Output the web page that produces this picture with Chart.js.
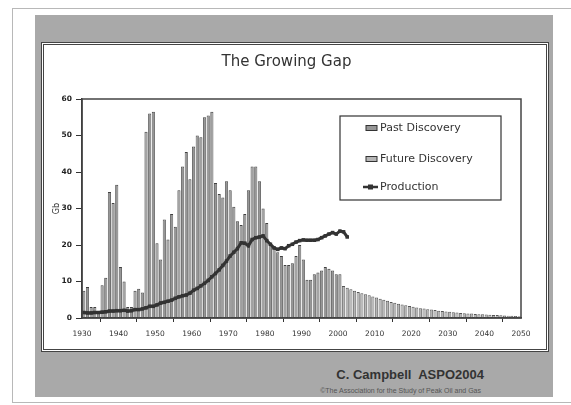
<!DOCTYPE html>
<html>
<head>
<meta charset="utf-8">
<script src="https://cdn.jsdelivr.net/npm/chart.js@4.4.0/dist/chart.umd.min.js"></script>
<style>
  body { margin: 0; width: 571px; height: 405px; background: #fff; position: relative; overflow: hidden; font-family: "Liberation Sans", Arial, sans-serif; }
  #outer { position: absolute; left: 12px; top: 8px; width: 600px; height: 393px; border: 1px solid #b8b8b8; }
  #panel { position: absolute; left: 35px; top: 15px; width: 518px; height: 382px; background: #a9a9a9; }
  #inner { position: absolute; left: 41px; top: 42px; width: 502px; height: 304px; border: 3px double #444; background: #fff; }
  #chartBox { position: absolute; left: 0; top: 0; width: 502px; height: 304px; }
  #credit { position: absolute; right: 87px; top: 367px; font-weight: bold; font-size: 13px; color: #333; }
  #assoc { position: absolute; right: 90px; top: 387px; font-size: 7px; color: #555; }
</style>
</head>
<body>
<div id="outer"></div>
<div id="panel"></div>
<div id="inner"><div id="chartBox"><canvas id="myChart"></canvas></div></div>
<div id="credit">C. Campbell&nbsp; ASPO2004</div>
<div id="assoc">©The Association for the Study of Peak Oil and Gas</div>
<script>
// datos (Gb por año)
const pastStart = 1930
const pastDiscovery = [7.5, 8.5, 3, 3, 1.8, 9, 11, 34.5, 31.5, 36.5,
  14, 10, 3, 3, 7.5, 8, 7, 51, 56, 56.5,
  20.5, 16, 27, 21.5, 28.5, 25, 35, 41.5, 45.5, 38,
  47, 50, 49.5, 55, 55.5, 56.5, 37, 34, 33, 37.5,
  35, 30.5, 26.5, 25.5, 28.5, 35, 41.5, 41.5, 37.5, 30,
  26, 20.5, 19.5, 18, 17, 14.5, 14.5, 15, 17, 20,
  16, 10.5, 10.5, 12, 12.5, 13, 14, 13.5, 13, 12,
  12]

const futureStart = 2001
const futureDiscovery = [8.8, 8.3, 7.9, 7.5, 7.1, 6.8, 6.5, 6.2, 5.9,
  5.6, 5.3, 5.0, 4.7, 4.4, 4.2, 3.9, 3.7, 3.5, 3.3,
  3.1, 2.9, 2.7, 2.6, 2.4, 2.3, 2.2, 2.0, 1.9, 1.8,
  1.7, 1.6, 1.5, 1.4, 1.3, 1.25, 1.2, 1.1, 1.05, 1.0,
  0.95, 0.9, 0.85, 0.8, 0.75, 0.7, 0.65, 0.6, 0.55, 0.5]

const productionStart = 1930
const production = [1.5, 1.4, 1.4, 1.5, 1.5, 1.6, 1.7, 1.9, 1.9, 2.0,
  2.0, 2.1, 1.9, 2.0, 2.3, 2.3, 2.5, 2.8, 3.2, 3.2,
  3.6, 4.1, 4.3, 4.6, 4.9, 5.4, 5.8, 6.1, 6.3, 6.8,
  7.6, 8.1, 8.8, 9.5, 10.3, 11.3, 12.2, 13.2, 14.4, 15.6,
  17.0, 18.0, 19.0, 20.6, 20.5, 19.8, 21.5, 22.0, 22.2, 22.5,
  21.2, 20.2, 19.2, 18.8, 19.2, 19.0, 19.8, 20.2, 20.8, 21.2,
  21.4, 21.3, 21.3, 21.3, 21.5, 22.0, 22.5, 23.0, 23.4, 23.0,
  23.8, 23.6, 22.2]

const xTicks = [1930, 1940, 1950, 1960, 1970, 1980, 1990, 2000, 2010, 2020, 2030, 2040, 2050]
const yTicks = [0, 10, 20, 30, 40, 50, 60]
const seriesNames = ['Past Discovery', 'Future Discovery', 'Production']

// cada barra ocupa su año completo (centro en año + 0.5)
function toPoints(values, start) {
  return values.map((v, i) => ({ x: start + i + 0.5, y: v }))
}

// marco del area y leyenda dentro del grafico
const framePlugin = {
  id: 'frameAndLegend',
  afterDraw(chart) {
    const ctx = chart.ctx
    const a = chart.chartArea
    ctx.save()
    ctx.strokeStyle = '#444'
    ctx.lineWidth = 1.5
    ctx.strokeRect(a.left, a.top, a.right - a.left, a.bottom - a.top)

    const bx = a.right - 181, by = a.top + 17, bw = 161, bh = 84
    ctx.fillStyle = '#fff'
    ctx.fillRect(bx, by, bw, bh)
    ctx.strokeStyle = '#333'
    ctx.lineWidth = 1.2
    ctx.strokeRect(bx, by, bw, bh)

    const rows = [12, 43, 71]
    ctx.font = '11px "DejaVu Sans"'
    ctx.textBaseline = 'middle'
    chart.data.datasets.forEach((ds, i) => {
      const y = by + rows[i]
      if (ds.type === 'line') {
        ctx.strokeStyle = ds.borderColor
        ctx.lineWidth = 2.5
        ctx.beginPath()
        ctx.moveTo(bx + 23, y)
        ctx.lineTo(bx + 38, y)
        ctx.stroke()
        ctx.fillStyle = ds.borderColor
        ctx.fillRect(bx + 28, y - 2.5, 5, 5)
      } else {
        ctx.fillStyle = ds.backgroundColor
        ctx.fillRect(bx + 26, y - 2.5, 11, 5)
        ctx.strokeStyle = '#333'
        ctx.lineWidth = 1
        ctx.strokeRect(bx + 26, y - 2.5, 11, 5)
      }
      ctx.fillStyle = '#333'
      ctx.fillText(ds.label, bx + 40, y)
    })
    ctx.restore()
  }
}

const data = {
  datasets: [
    {
      type: 'line',
      label: seriesNames[2],
      data: toPoints(production, productionStart),
      borderColor: '#333',
      backgroundColor: '#333',
      borderWidth: 3,
      pointStyle: 'rect',
      pointRadius: 2.5,
      pointBorderWidth: 0,
      order: 0
    },
    {
      type: 'bar',
      label: seriesNames[0],
      data: toPoints(pastDiscovery, pastStart),
      backgroundColor: '#979797',
      borderColor: '#404040',
      borderWidth: { left: 0.8, right: 0.8, top: 1 },
      borderSkipped: 'bottom',
      grouped: false,
      categoryPercentage: 1,
      barPercentage: 0.85,
      order: 1
    },
    {
      type: 'bar',
      label: seriesNames[1],
      data: toPoints(futureDiscovery, futureStart),
      backgroundColor: '#b6b6b6',
      borderColor: '#555',
      borderWidth: { left: 0.8, right: 0.8, top: 1 },
      borderSkipped: 'bottom',
      grouped: false,
      categoryPercentage: 1,
      barPercentage: 0.85,
      order: 1
    }
  ]
}
// la leyenda sigue el orden Past, Future, Production
data.datasets.sort((p, q) => seriesNames.indexOf(p.label) - seriesNames.indexOf(q.label))

const config = {
  type: 'bar',
  data: data,
  options: {
    responsive: true,
    maintainAspectRatio: false,
    animation: false,
    layout: { padding: { left: 8, right: 25, top: 0, bottom: 0 } },
    plugins: {
      legend: { display: false },
      tooltip: { enabled: false },
      title: {
        display: true,
        text: 'The Growing Gap',
        color: '#333',
        font: { family: '"DejaVu Sans"', size: 15, weight: 'normal' },
        padding: { top: 8, bottom: 28 }
      }
    },
    scales: {
      x: {
        type: 'linear',
        min: xTicks[0],
        max: xTicks[xTicks.length - 1],
        offset: false,
        afterBuildTicks: s => { s.ticks = xTicks.map(v => ({ value: v })) },
        afterFit: s => { s.height = 31 },
        ticks: {
          callback: v => String(v),
          color: '#333',
          font: { family: '"DejaVu Sans"', size: 7.5 },
          padding: 8,
          maxRotation: 0,
          autoSkip: false
        },
        grid: { drawOnChartArea: false, tickLength: 4, color: '#333', lineWidth: 1 },
        border: { color: '#333', width: 1.5 }
      },
      y: {
        min: yTicks[0],
        max: yTicks[yTicks.length - 1],
        afterBuildTicks: s => { s.ticks = yTicks.map(v => ({ value: v })) },
        afterFit: s => { s.width = 30 },
        ticks: {
          color: '#222',
          font: { family: '"DejaVu Sans"', size: 7.5, weight: 'bold' },
          padding: 4
        },
        title: {
          display: true,
          text: 'Gb',
          color: '#333',
          font: { family: '"DejaVu Sans"', size: 8 },
          padding: { top: 0, bottom: 0 }
        },
        grid: { drawOnChartArea: false, tickLength: 6, color: '#333', lineWidth: 1 },
        border: { color: '#333', width: 1.5 }
      }
    }
  },
  plugins: [framePlugin]
}

let myChart = new Chart(document.getElementById('myChart'), config)
</script>
</body>
</html>
